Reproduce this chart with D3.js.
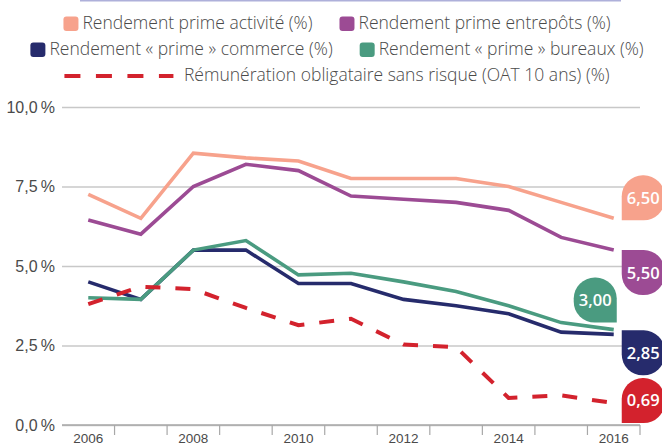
<!DOCTYPE html>
<html lang="fr">
<head>
    <meta charset="UTF-8">
    <script src="https://d3js.org/d3.v7.min.js"></script>
    <title>Rendements prime</title>
    <style>
        body { margin: 0; background: #fff; }
        svg { display: block; font-family: "Open Sans", Lato, sans-serif; }
    </style>
</head>
<body>
    <script>
        // données
        var years = [2006, 2007, 2008, 2009, 2010, 2011, 2012, 2013, 2014, 2015, 2016]
        var primeActivite = [7.25, 6.5, 8.55, 8.4, 8.3, 7.75, 7.75, 7.75, 7.5, 7.0, 6.5]
        var primeEntrepots = [6.45, 6.0, 7.5, 8.2, 8.0, 7.2, 7.1, 7.0, 6.75, 5.9, 5.5]
        var primeCommerce = [4.5, 3.95, 5.5, 5.5, 4.45, 4.45, 3.95, 3.75, 3.5, 2.92, 2.85]
        var primeBureaux = [4.0, 3.95, 5.5, 5.8, 4.72, 4.77, 4.5, 4.2, 3.75, 3.22, 3.0]
        var oat10ans = [3.8, 4.35, 4.27, 3.68, 3.14, 3.34, 2.53, 2.45, 0.85, 0.93, 0.69]
        var yTicks = [0, 2.5, 5, 7.5, 10]
        var xLabelYears = [2006, 2008, 2010, 2012, 2014, 2016]

        var seriesNames = [
            "Rendement prime activité (%)",
            "Rendement prime entrepôts (%)",
            "Rendement « prime » commerce (%)",
            "Rendement « prime » bureaux (%)",
            "Rémunération obligataire sans risque (OAT 10 ans) (%)"
        ]
        var seriesValues = [primeActivite, primeEntrepots, primeCommerce, primeBureaux, oat10ans]
        var seriesColors = ["#f7a28c", "#9c4b94", "#262b6c", "#4a9b80", "#d3222d"]

        // étiquettes de fin : côté, coin pointu, décalage vertical
        var badgeSide = ["right", "right", "right", "left", "right"]
        var badgeCorner = ["bl", "tl", "tl", "br", "bl"]
        var badgeShift = [-43, 0, -4, -52, -25]

        var width = 662
        var height = 445
        var plot = { left: 62, right: 640, top: 107, bottom: 425 }
        var textColor = "#4a4a4a"

        var svg = d3.select("body")
            .append("svg")
            .attr("width", width)
            .attr("height", height)

        var x = d3.scaleBand()
            .domain(years)
            .range([plot.left, plot.right])
        var y = d3.scaleLinear()
            .domain([0, 10])
            .range([plot.bottom, plot.top])
        function cx(year) { return x(year) + x.bandwidth() / 2 }
        function frNum(d, digits) { return d3.format("." + digits + "f")(d).replace(".", ",") }

        // trait en haut
        svg.append("line")
            .attr("x1", 80).attr("x2", 621)
            .attr("y1", 0.5).attr("y2", 0.5)
            .attr("stroke", "#aeb0da")
            .attr("stroke-width", 2)

        // axe y + grille
        var yAxis = svg.append("g")
            .attr("transform", "translate(" + plot.left + ",0)")
            .call(d3.axisLeft(y)
                .tickValues(yTicks)
                .tickSize(-(plot.right - plot.left))
                .tickPadding(7)
                .tickFormat(function (d) { return frNum(d, 1) + "\u202F%" }))
        yAxis.select(".domain").remove()
        yAxis.selectAll(".tick line")
            .attr("stroke", "#c8c8c8")
            .attr("stroke-width", 1.4)
        yAxis.selectAll(".tick text")
            .attr("fill", textColor)
            .attr("font-size", "16px")
            .attr("font-weight", 300)

        // axe x : trait de base, graduations entre les années
        svg.append("line")
            .attr("x1", plot.left).attr("x2", plot.right)
            .attr("y1", plot.bottom).attr("y2", plot.bottom)
            .attr("stroke", "#a8a8a8")
            .attr("stroke-width", 1.3)
        var boundaries = years.slice(1).map(function (d) { return x(d) }).concat([x(years[years.length - 1]) + x.bandwidth()])
        svg.selectAll(".xtick")
            .data(boundaries)
            .enter()
            .append("line")
            .attr("class", "xtick")
            .attr("x1", function (d) { return d }).attr("x2", function (d) { return d })
            .attr("y1", plot.bottom).attr("y2", plot.bottom + 10)
            .attr("stroke", "#a8a8a8")
            .attr("stroke-width", 1.2)
        var xAxis = svg.append("g")
            .attr("transform", "translate(0," + plot.bottom + ")")
            .call(d3.axisBottom(x)
                .tickValues(xLabelYears)
                .tickSize(0)
                .tickPadding(8))
        xAxis.select(".domain").remove()
        xAxis.selectAll(".tick text")
            .attr("fill", textColor)
            .attr("font-size", "13.5px")
            .attr("font-weight", 300)

        // courbes
        var line = d3.line()
            .x(function (d, i) { return cx(years[i]) })
            .y(function (d) { return y(d) })

        svg.selectAll(".serie")
            .data(seriesValues)
            .enter()
            .append("path")
            .attr("class", "serie")
            .attr("d", function (d) { return line(d) })
            .attr("fill", "none")
            .attr("stroke", function (d, i) { return seriesColors[i] })
            .attr("stroke-width", function (d, i) { return i == 4 ? 4 : 3.6 })
            .attr("stroke-dasharray", function (d, i) { return i == 4 ? "15,15" : null })
            .attr("stroke-linejoin", "miter")

        // pastilles de fin
        function badgePath(x0, y0, w, h, r, sharp) {
            var c = { tl: r, tr: r, br: r, bl: r }
            c[sharp] = 0
            return "M" + (x0 + c.tl) + "," + y0 +
                "H" + (x0 + w - c.tr) +
                "A" + c.tr + "," + c.tr + " 0 0 1 " + (x0 + w) + "," + (y0 + c.tr) +
                "V" + (y0 + h - c.br) +
                "A" + c.br + "," + c.br + " 0 0 1 " + (x0 + w - c.br) + "," + (y0 + h) +
                "H" + (x0 + c.bl) +
                "A" + c.bl + "," + c.bl + " 0 0 1 " + x0 + "," + (y0 + h - c.bl) +
                "V" + (y0 + c.tl) +
                "A" + c.tl + "," + c.tl + " 0 0 1 " + (x0 + c.tl) + "," + y0 + "Z"
        }
        var badgeW = 43, badgeH = 45
        var lastYear = years[years.length - 1]
        var badges = svg.selectAll(".badge")
            .data(seriesValues)
            .enter()
            .append("g")
            .attr("class", "badge")
            .attr("transform", function (d, i) {
                var bx = badgeSide[i] == "right" ? cx(lastYear) + 8 : cx(lastYear) + 3 - badgeW
                var by = y(d[d.length - 1]) + badgeShift[i]
                return "translate(" + bx + "," + by + ")"
            })
        badges.append("path")
            .attr("d", function (d, i) { return badgePath(0, 0, badgeW, badgeH, 21, badgeCorner[i]) })
            .attr("fill", function (d, i) { return seriesColors[i] })
        badges.append("text")
            .attr("x", badgeW / 2)
            .attr("y", badgeH / 2)
            .attr("dy", "0.36em")
            .attr("text-anchor", "middle")
            .attr("fill", "#fff")
            .attr("font-size", "16.5px")
            .attr("font-weight", 600)
            .text(function (d) { return frNum(d[d.length - 1], 2) })

        // légende centrée
        var legendRows = [[0, 1], [2, 3], [4]]
        var rowBaseline = [29, 55, 81]
        var legendCenter = 337
        legendRows.forEach(function (row, r) {
            var g = svg.append("g")
            var cursor = 0
            row.forEach(function (s, k) {
                if (k > 0) cursor += 27
                var item = g.append("g").attr("transform", "translate(" + cursor + ",0)")
                var markW
                if (s == 4) {
                    item.append("line")
                        .attr("x1", 0).attr("x2", 109)
                        .attr("y1", rowBaseline[r] - 5).attr("y2", rowBaseline[r] - 5)
                        .attr("stroke", seriesColors[s])
                        .attr("stroke-width", 4)
                        .attr("stroke-dasharray", "16,15.5")
                    markW = 119.5
                } else {
                    item.append("rect")
                        .attr("x", 0).attr("y", rowBaseline[r] - 12.5)
                        .attr("width", 15).attr("height", 14.5)
                        .attr("rx", 3)
                        .attr("fill", seriesColors[s])
                    markW = 19
                }
                var t = item.append("text")
                    .attr("x", markW)
                    .attr("y", rowBaseline[r])
                    .attr("fill", textColor)
                    .attr("font-size", "17.5px")
                    .attr("font-weight", 300)
                    .text(seriesNames[s])
                cursor += markW + t.node().getComputedTextLength()
            })
            g.attr("transform", "translate(" + (legendCenter - cursor / 2) + ",0)")
        })
    </script>
</body>
</html>
